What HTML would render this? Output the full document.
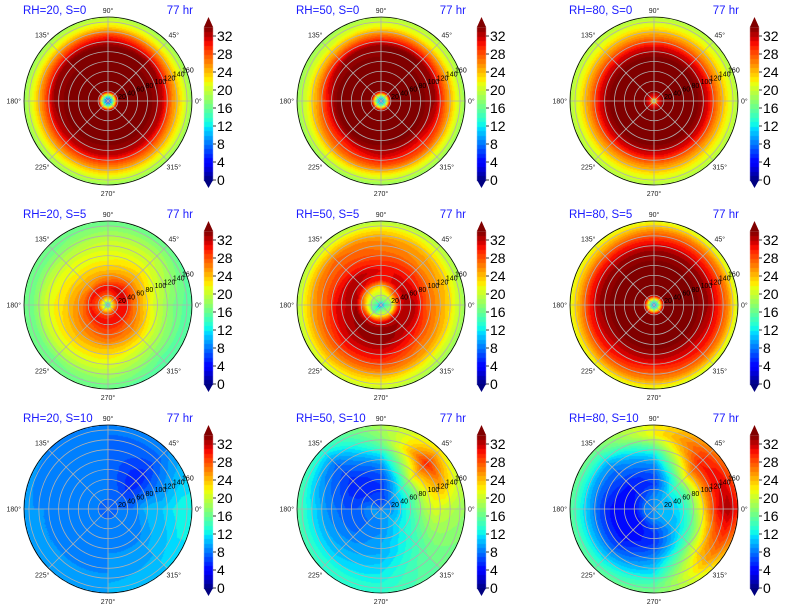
<!DOCTYPE html>
<html><head><meta charset="utf-8">
<style>
html,body{margin:0;padding:0;background:#fff;}
#wrap{position:relative;width:785px;height:612px;overflow:hidden;font-family:"Liberation Sans",sans-serif;}
canvas,svg{position:absolute;left:0;top:0;}
</style></head>
<body>
<div id="wrap">
<canvas id="cv" width="785" height="612"></canvas>
<svg id="sv" width="785" height="612" xmlns="http://www.w3.org/2000/svg"></svg>
</div>
<script>
// ---- data ----
const radii = [0, 8, 20, 35, 50, 70, 90, 110, 130, 150, 170];
const sectors = [0, 45, 90, 135, 180, 225, 270, 315];
const rhLabels = [20, 50, 80];
const sLabels = [0, 5, 10];
const cbTicks = [0, 4, 8, 12, 16, 20, 24, 28, 32];
const rTicks = [20, 40, 60, 80, 100, 120, 140, 160];
const angTicks = [0, 45, 90, 135, 180, 225, 270, 315];

const p_rh20_s0 = [
[3,3,3,3,3,3,3,3],[12,12,12,12,12,12,12,12],[34,34,34,34,34,34,34,34],[34,34,34,34,34,34,34,34],[34,34,34,34,34,34,34,34],
[34,34,34,34,34,34,34,34],[34,34,34,34,34,34,34,34],[32,34,34,34,33,32,32,32],
[26,28,30,28,27,27,27,27],[22,22,23,22,22,22,22,22],[18,18,19,18,18,18,18,18]];
const p_rh50_s0 = [
[6,6,6,6,6,6,6,6],[14,14,14,14,14,14,14,14],[34,34,34,34,34,34,34,34],[34,34,34,34,34,34,34,34],[34,34,34,34,34,34,34,34],
[34,34,34,34,34,34,34,34],[34,34,34,34,34,34,34,34],[33,34,34,33,30,30,32,31],
[27,28,28,26,25,27,28,28],[22,22,22,21,21,22,22,22],[18,19,19,18,18,18,18,18]];
const p_rh80_s0 = [
[16,16,16,16,16,16,16,16],[30,30,30,30,30,30,30,30],[34,34,34,34,34,34,34,34],[34,34,34,34,34,34,34,34],[34,34,34,34,34,34,34,34],
[34,34,34,34,34,34,34,34],[34,34,34,34,34,34,34,34],[31,31,31,31,31,31,31,31],
[26,26,26,26,26,26,26,26],[22,22,22,22,22,22,22,22],[19,19,19,19,19,19,19,19]];
const p_rh20_s5 = [
[8,8,8,8,8,8,8,8],[22,22,20,20,20,20,22,22],[30,30,28,28,28,28,29,30],[31,32,31,31,30,31,31,31],[27,29,27,26,27,28,29,28],
[24,25,24,24,25,26,27,26],[21,23,22,22,23,24,24,23],[19,21,21,21,22,22,22,20],
[17,20,20,19,20,20,20,18],[16,18,18,17,17,17,18,16],[15,16,16,16,16,16,16,15]];
const p_rh50_s5 = [
[6,6,6,6,6,6,6,6],[14,16,16,16,14,12,16,16],[18,20,20,19,18,16,22,20],[30,28,22,24,26,30,31,32],[33,32,30,31,33,34,34,33],
[32,31,31,33,32,33,34,32],[28,29,29,30,31,32,32,30],[26,26,27,28,28,30,30,27],
[24,25,26,27,26,27,27,25],[21,22,23,23,23,24,23,21],[18,19,19,19,19,20,20,18]];
const p_rh80_s5 = [
[6,6,6,6,6,6,6,6],[16,16,16,16,16,16,16,16],[34,34,34,34,34,34,34,34],[34,34,34,34,34,34,34,34],[34,34,34,34,34,34,34,34],
[34,34,34,34,34,34,34,34],[34,34,34,34,34,34,34,34],[33,33,33,33,33,32,32,32],
[30,30,30,30,30,30,29,30],[26,26,26,25,25,26,26,26],[20,20,21,21,21,21,21,20]];
const p_rh20_s10 = [
[7,7,7,7,7,7,7,7],[7,7,7,7,7,7,7,7],[8,8,8,8,8,8,8,8],[8,7,8,8,8,8,8,8],[8,6,8,8,8,8,8,8],
[10,5,8,8,8,8,8,8],[11,5,8,8,8,8,9,9],[11,6,8,8,8,8,9,10],
[12,7,8,8,9,9,9,10],[13,8,8,8,9,9,10,11],[13,9,9,9,10,10,10,11]];
const p_rh50_s10 = [
[8,8,8,8,8,8,8,8],[9,8,7,7,9,9,9,10],[9,8,6,7,9,9,9,10],[11,10,6,6,8,8,9,11],[13,12,6,5,7,8,9,12],
[16,16,7,5,7,8,10,13],[19,22,9,6,8,9,10,14],[21,26,12,7,9,10,11,15],
[20,30,16,8,11,11,12,16],[19,26,18,11,13,13,13,16],[18,22,19,14,16,14,14,16]];
const p_rh80_s10 = [
[9,9,9,9,9,9,9,9],[10,10,9,8,8,8,9,10],[10,10,9,8,8,8,9,10],[11,11,8,6,5,5,7,10],[12,13,6,5,4,4,6,10],
[15,16,7,5,4,4,6,12],[20,22,9,7,5,5,8,15],[26,27,12,8,7,7,10,20],
[31,30,17,10,10,10,12,24],[33,29,22,14,13,13,15,25],[30,26,22,17,16,16,17,22]];
const panels = [p_rh20_s0, p_rh50_s0, p_rh80_s0, p_rh20_s5, p_rh50_s5, p_rh80_s5, p_rh20_s10, p_rh50_s10, p_rh80_s10];

// ---- layout ----
const R = 84, RMAX = 170, VMIN = 0, VMAX = 34;
function cxOf(col){ return 108 + col*273; }
function cyOf(row){ return 101 + row*204; }
function rScale(v){ return v / RMAX * R; }
function cbY(v, row){ return 180 + row*204 - (v - VMIN) * 4.5; }

function seg(t, pts){
  for (let i = 0; i < pts.length - 1; i++){
    if (t <= pts[i+1][0]){
      const a = pts[i], b = pts[i+1];
      return a[1] + (b[1]-a[1]) * (t - a[0]) / (b[0] - a[0]);
    }
  }
  return pts[pts.length-1][1];
}
function jet(v){
  let t = (v - VMIN) / (VMAX - VMIN); t = Math.max(0, Math.min(1, t));
  const r = seg(t, [[0,0],[0.35,0],[0.66,1],[0.89,1],[1,0.5]]);
  const g = seg(t, [[0,0],[0.125,0],[0.375,1],[0.64,1],[0.91,0],[1,0]]);
  const b = seg(t, [[0,0.5],[0.11,1],[0.34,1],[0.65,0],[1,0]]);
  return [Math.round(r*255), Math.round(g*255), Math.round(b*255)];
}

function sample(grid, rv, thDeg){
  let i = 0;
  while (i < radii.length - 2 && rv > radii[i+1]) i++;
  let tr = (rv - radii[i]) / (radii[i+1] - radii[i]); tr = Math.max(0, Math.min(1, tr));
  let a = ((thDeg % 360) + 360) % 360;
  const n = sectors.length, step = 360 / n;
  const j0 = Math.floor(a / step) % n, j1 = (j0 + 1) % n;
  const ta = (a - j0*step) / step;
  const v0 = grid[i][j0]*(1-ta) + grid[i][j1]*ta;
  const v1 = grid[i+1][j0]*(1-ta) + grid[i+1][j1]*ta;
  return v0*(1-tr) + v1*tr;
}

// ---- heatmaps ----
const cv = document.getElementById('cv');
const ctx = cv.getContext('2d');
const img = ctx.createImageData(785, 612);
for (let k = 0; k < 9; k++){
  const col = k % 3, row = Math.floor(k / 3);
  const cx = cxOf(col), cy = cyOf(row), grid = panels[k];
  for (let y = Math.floor(cy - R); y <= Math.ceil(cy + R); y++){
    for (let x = Math.floor(cx - R); x <= Math.ceil(cx + R); x++){
      const dx = x + 0.5 - cx, dy = y + 0.5 - cy;
      const rp = Math.sqrt(dx*dx + dy*dy);
      if (rp > R) continue;
      const th = Math.atan2(-dy, dx) * 180 / Math.PI;
      let v = sample(grid, rp / R * RMAX, th);
      v = Math.floor(v);
      const c = jet(v + 0.5);
      const idx = (y*785 + x)*4;
      img.data[idx] = c[0]; img.data[idx+1] = c[1]; img.data[idx+2] = c[2]; img.data[idx+3] = 255;
    }
  }
  const bx = 204 + col*273;
  for (let y = 27 + row*204; y <= 180 + row*204; y++){
    const v = (180 + row*204 - y) / 4.5;
    const c = jet(Math.floor(v) + 0.5);
    for (let x = bx; x < bx + 9; x++){
      const idx = (y*785 + x)*4;
      img.data[idx] = c[0]; img.data[idx+1] = c[1]; img.data[idx+2] = c[2]; img.data[idx+3] = 255;
    }
  }
}
ctx.putImageData(img, 0, 0);

// ---- overlay ----
const NS = 'http://www.w3.org/2000/svg';
const sv = document.getElementById('sv');
function mk(tag, attrs, parent){
  const e = document.createElementNS(NS, tag);
  for (const k in attrs) e.setAttribute(k, attrs[k]);
  (parent || sv).appendChild(e);
  return e;
}
for (let k = 0; k < 9; k++){
  const col = k % 3, row = Math.floor(k / 3);
  const cx = cxOf(col), cy = cyOf(row);
  const g = mk('g', {});
  
  
  rTicks.forEach(rv => {
    const c = mk('circle', {cx: cx, cy: cy, r: rScale(rv), fill: 'none', stroke: '#b0b0b0', 'stroke-width': 0.8}, g);
    
    
  });
  angTicks.forEach(a => {
    const ar = a * Math.PI / 180;
    const l = mk('line', {x1: cx, y1: cy, x2: cx + R*Math.cos(ar), y2: cy - R*Math.sin(ar), stroke: '#b0b0b0', 'stroke-width': 0.8}, g);
    
    
    const lr = R + 9;
    let tx = cx + lr*Math.cos(ar), ty = cy - lr*Math.sin(ar) + 2.5;
    let anchor = 'middle';
    if (a === 0){ tx = cx + R + 3; anchor = 'start'; }
    if (a === 180){ tx = cx - R - 3; anchor = 'end'; }
    if (a === 90) ty = cy - R - 4;
    if (a === 270) ty = cy + R + 11;
    const t = mk('text', {x: tx, y: ty, 'font-size': 7, 'text-anchor': anchor, fill: '#222'}, g);
    t.textContent = a + '°';
    
    
  });
  const fr = mk('circle', {cx: cx, cy: cy, r: R, fill: 'none', stroke: '#000', 'stroke-width': 0.8}, g);
  
  
  rTicks.forEach(rv => {
    const ar = 22.5 * Math.PI / 180, rr = rScale(rv);
    const t = mk('text', {x: cx + rr*Math.cos(ar) + 1, y: cy - rr*Math.sin(ar) + 2, 'font-size': 7, fill: '#000'}, g);
    t.textContent = rv;
    
    
  });
  const t1 = mk('text', {x: cx - 85, y: cy - 87, 'font-size': 11.5, fill: '#1a1aff'}, g);
  t1.textContent = 'RH=' + rhLabels[col] + ', S=' + sLabels[row];
  
  
  const t2 = mk('text', {x: cx + 85, y: cy - 87, 'font-size': 11.5, fill: '#1a1aff', 'text-anchor': 'end'}, g);
  t2.textContent = '77 hr';
  
  
  const cb = mk('g', {});
  
  
  const bx = 204 + col*273, top = cbY(VMAX, row), bot = cbY(VMIN, row);
  const tc = jet(VMAX), bc = jet(VMIN);
  mk('polygon', {points: `${bx},${top} ${bx+9},${top} ${bx+4.5},${top-10}`, fill: `rgb(${tc})`}, cb);
  mk('polygon', {points: `${bx},${bot} ${bx+9},${bot} ${bx+4.5},${bot+8}`, fill: `rgb(${bc})`}, cb);
  cbTicks.forEach(v => {
    const y = cbY(v, row);
    mk('line', {x1: bx+9, y1: y, x2: bx+12, y2: y, stroke: '#000', 'stroke-width': 0.8}, cb);
    const t = mk('text', {x: bx + 13, y: y + 5, 'font-size': 14, fill: '#000'}, cb);
    t.textContent = v;
    
    
  });
}
</script>
</body></html>
